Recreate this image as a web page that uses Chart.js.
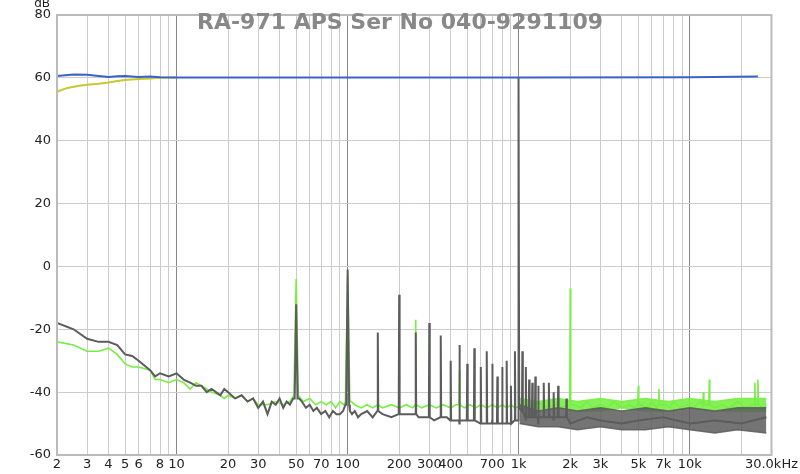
<!DOCTYPE html>
<html><head><meta charset="utf-8">
<script src="https://cdn.jsdelivr.net/npm/chart.js@4"></script>
<style>html,body{margin:0;background:#fff}#wrap{width:800px;height:474px}</style>
</head><body><div id="wrap"><canvas id="c"></canvas></div>
<script>
// level traces
var blueF = [2, 2.5, 3, 3.5, 4, 4.5, 5, 6, 7, 8, 10, 20, 100, 1000, 10000, 25000];
var blueV = [60.6, 61.1, 61.0, 60.6, 60.3, 60.5, 60.6, 60.3, 60.4, 60.2, 60.1, 60.1, 60.1, 60.1, 60.2, 60.4];
var yellowF = [2, 2.3, 2.7, 3, 3.5, 4, 4.5, 5, 6, 7, 8, 9, 10];
var yellowV = [55.6, 56.8, 57.5, 57.8, 58.1, 58.5, 59.0, 59.3, 59.6, 59.8, 60.0, 60.1, 60.1];

// grey spectrum: noise floor
var greyF = [2,2.5,3,3.5,4,4.5,5,5.5,6,7,7.5,8,9,10,
  11,12,13,14,15,16,17,18,19,20,
  22,24,26,28,30,32,34,36,38,40,42,44,46,48,
  52,54,57,60,63,66,70,74,78,82,86,90,94,97,
  103,106,110,115,120,130,140,160,180,220,260,320,380,450,520,600,700,800,900,990,
  1010,1100,1300,1600,2000,2500,3000,4000,5000,7000,10000,14000,20000,28000];
var greyV = [-18,-20,-23,-24,-24,-25,-28,-28.5,-30,-33,-35,-34,-35,-34,
  -36,-37,-38,-38,-40,-39,-40,-41,-39,-40,
  -42,-41,-43,-42,-45,-43,-47,-43,-44,-42,-45,-43,-44,-42,
  -42,-43,-45,-44,-46,-45,-47,-46,-48,-46,-47,-47,-46,-44,
  -46,-47,-46,-48,-47,-46,-48,-47,-48,-47,-48,-49,-48,-50,-49,-50,-49,-50,-50,-49,
  -45,-49,-50,-49,-50,-48,-49,-50,-49,-48,-50,-49,-50,-48];
// grey spectrum: harmonic spikes
var greySpikeF = [50,100,150,200,250,300,350,400,450,500,550,600,650,700,750,800,850,900,950,1000,
  1050,1100,1150,1200,1250,1300,1400,1500,1600,1700,1900];
var greySpikeV = [-12,-1,-21,-9,-21,-18,-22,-30,-25,-31,-26,-32,-27,-31,-35,-32,-30,-38,-27,60,
  -27,-32,-36,-37,-35,-38,-37,-37,-40,-38,-42];
var greySpikeBase = [-42,-44,-46,-47,-47,-48,-48,-49,-49,-49,-49,-50,-50,-50,-50,-50,-50,-50,-49,-45,
  -46,-48,-48,-48,-48,-48,-48,-48,-48,-48,-48];

// green spectrum: noise floor
var greenF = [2,2.5,3,3.5,4,4.5,5,5.5,6,7,7.5,8,9,10,11,12,13,14,15,16,18,19,20,22,24,26,28,30,34,38,42,46,
  55,60,65,70,75,80,85,90,95,105,110,120,130,140,150,160,180,200,220,240,270,300,330,360,400,430,480,520,560,600,650,700,750,800,850,900,950,
  1100,1200,1300,1400,1500,1600,1700,1800,1900,2100,2300,2500,2700,3000,3300,3600,4000,4400,4800,5200,5600,6000,6400,7200,7600,8000,8800,9600,10500,11500,14000,15500,17000,19000,21000,23000,27000,28000];
var greenV = [-24,-25,-27,-27,-26,-28,-31,-32,-32,-33,-36,-36,-37,-36,-37,-39,-37,-38,-39,-40,-41,-42,-41,-42,-41,-43,-42,-44,-44,-43,-44,-43,
  -43,-42,-44,-43,-44,-43,-45,-43,-44,-43,-44,-45,-44,-45,-44,-45,-44,-45,-44,-45,-45,-44,-45,-44,-45,-44,-45,-44,-45,-44,-45,-44,-45,-44,-45,-44,-45,
  -44,-45,-43,-45,-44,-45,-43,-45,-44,-44,-45,-43,-45,-44,-45,-43,-45,-44,-45,-44,-45,-43,-45,-44,-45,-43,-45,-44,-45,-43,-45,-44,-45,-43,-45,-44,-45,-44,-45];
var greenSpikeF = [50,100,250,450,2000,5000,6600,12000,13000,24000,25000];
var greenSpikeV = [-4,-3,-17,-33,-7,-38,-39,-40,-36,-37,-36];
var greenSpikeBase = [-41,-43,-44,-44,-44,-44,-44,-44,-44,-44,-44];

// dense noise bands above 1 kHz (top / bottom edges)
var bandF = [1010, 1300, 1700, 2200, 3000, 4000, 5500, 7500, 10000, 14000, 19000, 28000];
var greyBandTop = [-44, -46, -45, -46, -45, -46, -45, -46, -45, -46, -45, -45];
var greyBandBot = [-50, -51, -51, -52, -51, -52, -52, -51, -52, -53, -52, -53];
var greenBandTop = [-42, -43, -42, -43, -42, -43, -42, -43, -42, -43, -42, -42];
var greenBandBot = [-45, -46, -45, -46, -46, -45, -46, -46, -45, -46, -46, -46];

var labelled = [2,3,4,5,6,8,10,20,30,50,70,100,200,300,400,700,1000,2000,3000,5000,7000,10000,30000];
var yTicks = [-60,-40,-20,0,20,40,60,80];

function pts(f, v) { return f.map(function (x, i) { return {x: x, y: v[i]}; }); }
function withSpikes(f, v, sf, sv, sb, wLow) {
  var p = pts(f, v);
  sf.forEach(function (x, i) {
    var w = x <= 100 ? wLow : 0.006;
    p.push({x: x * (1 - w), y: sb[i]}, {x: x, y: sv[i]}, {x: x * (1 + w), y: sb[i]});
  });
  p.sort(function (a, b) { return a.x - b.x; });
  return p;
}
function tickName(v) {
  if (v == 30000) return '30.0kHz';
  if (v >= 1000) return (v / 1000) + 'k';
  return String(v);
}
var gridTicks = [];
[1, 10, 100, 1000, 10000].forEach(function (d) {
  for (var m = 1; m <= 9; m++) { var t = m * d; if (t >= 2 && t <= 30000) gridTicks.push(t); }
});

var titlePlugin = {
  id: 'overlay',
  afterDraw: function (ch) {
    var c = ch.ctx, a = ch.chartArea;
    c.save();
    c.strokeStyle = '#bbbbbb'; c.lineWidth = 2;
    c.strokeRect(a.left, a.top, a.right - a.left, a.bottom - a.top);
    c.fillStyle = '#888888';
    c.font = 'bold 22px "DejaVu Sans"';
    c.textAlign = 'center'; c.textBaseline = 'middle';
    c.fillText('RA-971 APS Ser No 040-9291109', 400, 23);
    c.fillStyle = '#222'; c.font = '12px "DejaVu Sans"';
    c.textAlign = 'right';
    c.fillText('dB', 50, 4);
    c.restore();
  }
};

function line(data, col, w) {
  return {data: data, borderColor: col, borderWidth: w, showLine: true, pointRadius: 0, tension: 0};
}
function band(top, bot, col) {
  return [
    {data: pts(bandF, top), borderColor: col, backgroundColor: col, borderWidth: 1.5, showLine: true, pointRadius: 0, fill: '+1'},
    {data: pts(bandF, bot), borderColor: col, borderWidth: 1.5, showLine: true, pointRadius: 0}
  ];
}

// first dataset is drawn on top
new Chart(document.getElementById('c'), {
  type: 'scatter',
  data: {datasets: [].concat(
    [line(pts(blueF, blueV), '#3a62c8', 2),
     line(pts(yellowF, yellowV), '#c8c832', 2),
     line(withSpikes(greyF, greyV, greySpikeF, greySpikeV, greySpikeBase, 0.02), '#5c5c5c', 2)],
    band(greyBandTop, greyBandBot, 'rgba(92,92,92,0.85)'),
    [line(withSpikes(greenF, greenV, greenSpikeF, greenSpikeV, greenSpikeBase, 0.03), '#77ee44', 1.6)],
    band(greenBandTop, greenBandBot, 'rgba(120,238,70,0.9)')
  )},
  options: {
    animation: false, responsive: true, maintainAspectRatio: false,
    layout: {padding: {top: 15, right: 28, left: 0, bottom: 0}},
    plugins: {legend: {display: false}, tooltip: {enabled: false}},
    scales: {
      x: {
        type: 'logarithmic', min: 2, max: 30000,
        afterBuildTicks: function (s) { s.ticks = gridTicks.map(function (v) { return {value: v}; }); },
        afterFit: function (s) { s.height = 19; },
        ticks: {autoSkip: false, maxRotation: 0, padding: 2, color: '#222', font: {size: 13, family: 'DejaVu Sans'},
          callback: function (v) { return labelled.indexOf(v) >= 0 ? tickName(v) : ''; }},
        grid: {drawTicks: false, color: function (c) {
          var v = c.tick && c.tick.value;
          return [10, 100, 1000, 10000].indexOf(v) >= 0 ? '#888' : '#cccccc';
        }},
        border: {display: false}
      },
      y: {
        min: -60, max: 80,
        afterBuildTicks: function (s) { s.ticks = yTicks.map(function (v) { return {value: v}; }); },
        afterFit: function (s) { s.width = 57; },
        ticks: {padding: 6, color: '#222', font: {size: 13, family: 'DejaVu Sans'}},
        grid: {drawTicks: false, color: '#cccccc'},
        border: {display: false}
      }
    }
  },
  plugins: [titlePlugin]
});
</script></body></html>
